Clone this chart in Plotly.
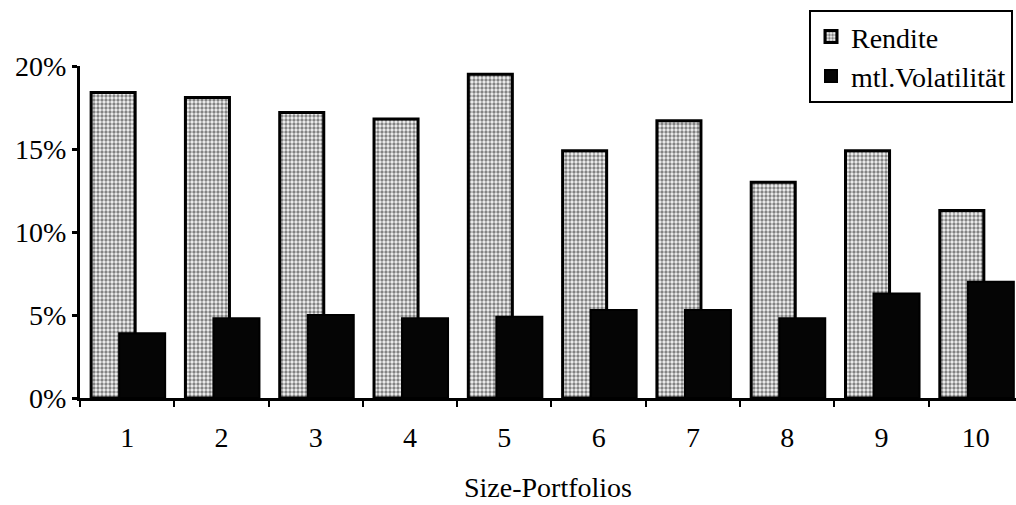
import plotly.graph_objects as go

categories = ["1", "2", "3", "4", "5", "6", "7", "8", "9", "10"]
rendite = [18.4, 18.1, 17.2, 16.8, 19.5, 14.9, 16.7, 13.0, 14.9, 11.3]
volatilitaet = [3.9, 4.8, 5.0, 4.8, 4.9, 5.3, 5.3, 4.8, 6.3, 7.0]
y_ticks = [0, 5, 10, 15, 20]
y_tick_labels = ["0%", "5%", "10%", "15%", "20%"]
x_boundaries = [i - 0.5 for i in range(len(categories))]

FONT = "Liberation Serif, Times New Roman, serif"
X_RANGE = [-0.5, 9.426]

fig = go.Figure()
fig.add_trace(go.Bar(
    x=categories, y=rendite, name="Rendite",
    offset=-0.382, width=0.467,
    marker=dict(color="white",
                pattern=dict(shape=".", fgcolor="#111111", bgcolor="#f4f4f4", size=4, solidity=0.55),
                line=dict(color="black", width=3)),
))
fig.add_trace(go.Bar(
    x=categories, y=volatilitaet, name="mtl.Volatilität",
    offset=-0.085, width=0.488,
    marker=dict(color="#050505", line=dict(color="black", width=2)),
))

fig.update_layout(
    width=1016, height=505,
    barmode="overlay",
    paper_bgcolor="white", plot_bgcolor="white",
    margin=dict(l=80, r=0, t=66, b=107, autoexpand=False),
    font=dict(family=FONT, size=28, color="black"),
    showlegend=True,
    legend=dict(x=0.9968, y=1.169, xanchor="right", yanchor="top",
                bordercolor="black", borderwidth=2, bgcolor="white",
                font=dict(family=FONT, size=28, color="black"),
                itemwidth=30, tracegroupgap=0),
    xaxis=dict(
        range=X_RANGE, showgrid=False, zeroline=False, automargin=False,
        showline=True, linecolor="black", linewidth=3,
        ticks="outside", tickson="boundaries", ticklen=6, tickwidth=2, tickcolor="black",
        ticklabelstandoff=12,
        title=dict(text="Size-Portfolios", standoff=26, font=dict(size=28)),
        tickfont=dict(size=28),
    ),
    xaxis2=dict(
        overlaying="x", anchor="y", side="bottom", range=X_RANGE,
        tickvals=x_boundaries, showticklabels=False, showgrid=False, zeroline=False,
        ticks="inside", ticklen=5, tickwidth=2, tickcolor="black", showline=False,
        automargin=False,
    ),
    yaxis=dict(
        range=[0, 20], showgrid=False, zeroline=False, automargin=False,
        showline=True, linecolor="black", linewidth=3,
        tickvals=y_ticks, ticktext=y_tick_labels,
        ticks="outside", ticklen=5, tickwidth=3, tickcolor="black",
        tickfont=dict(size=28),
    ),
    yaxis2=dict(
        overlaying="y", anchor="x", side="left", range=[0, 20],
        tickvals=y_ticks, showticklabels=False, showgrid=False, zeroline=False,
        ticks="inside", ticklen=5, tickwidth=3, tickcolor="black", showline=False,
        automargin=False,
    ),
)

fig.write_html("out.html", config={"displayModeBar": False},
               post_script="document.body.style.margin='0px';")
